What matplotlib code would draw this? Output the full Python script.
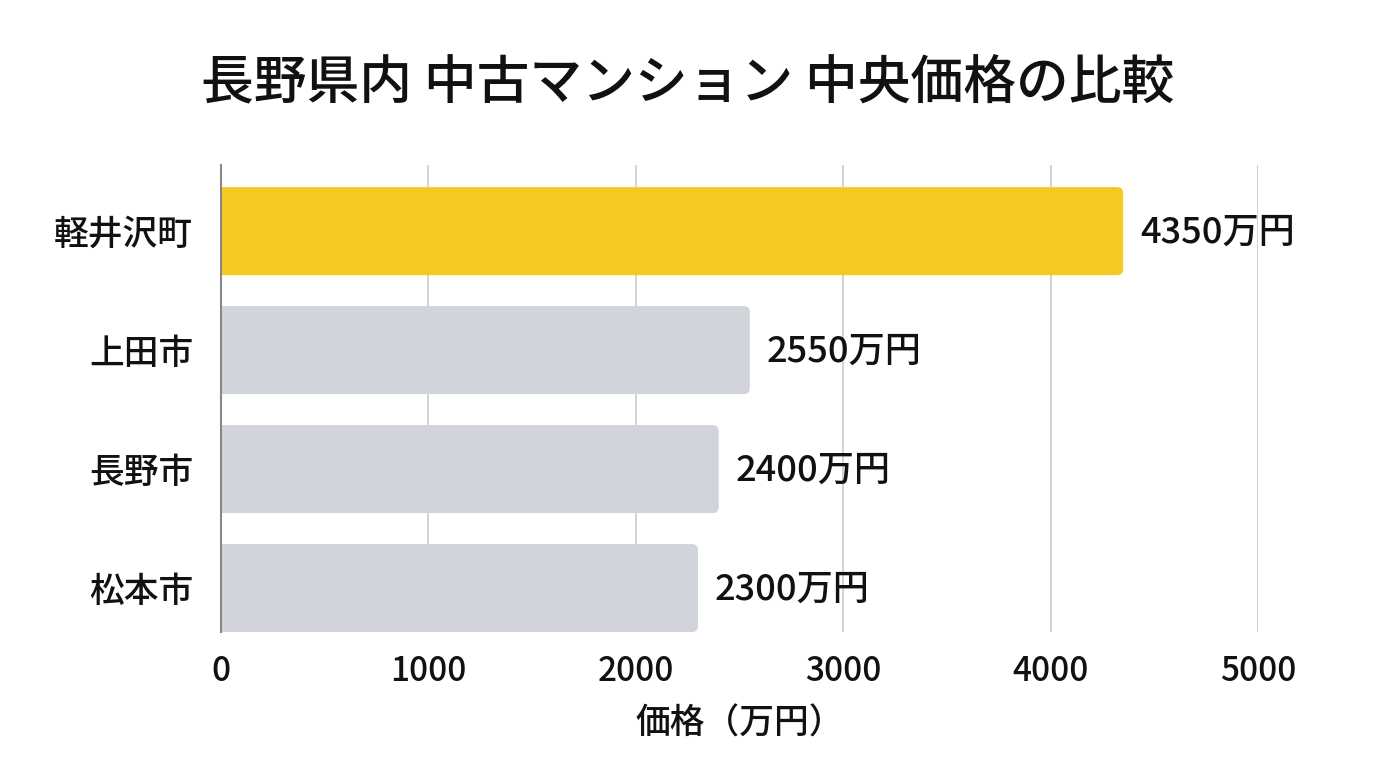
import matplotlib
matplotlib.use("Agg")
import matplotlib.pyplot as plt
from matplotlib.patches import FancyBboxPatch

plt.rcParams['font.family'] = ['Noto Sans CJK JP', 'DejaVu Sans']

categories = ["軽井沢町", "上田市", "長野市", "松本市"]
values = [4350, 2550, 2400, 2300]
value_labels = ["4350万円", "2550万円", "2400万円", "2300万円"]
xticks = [0, 1000, 2000, 3000, 4000, 5000]
title = "長野県内 中古マンション 中央価格の比較"
xlabel = "価格（万円）"

highlight = "#F5C91F"
base = "#D1D5DB"
colors = [highlight] + [base] * (len(categories) - 1)

fig = plt.figure(figsize=(13.76, 7.68), dpi=100)
ax = fig.add_axes([0.1606, 0.177, 0.7536, 0.608])

ypos = list(range(len(categories)))
bars = ax.barh(ypos, values, height=0.74, color=colors, zorder=2)

# replace bars with rounded versions (right corners visible, left clipped at axis)
ext = 60
for b, c in zip(bars, colors):
    x, y, w, h = b.get_x(), b.get_y(), b.get_width(), b.get_height()
    b.set_visible(False)
    p = FancyBboxPatch((x - ext, y), w + ext, h,
                       boxstyle="round,pad=0,rounding_size=30",
                       mutation_aspect=0.00168, facecolor=c, edgecolor="none",
                       zorder=2, clip_on=True)
    ax.add_patch(p)

for y, v, lab in zip(ypos, values, value_labels):
    ax.annotate(lab, xy=(v, y), xytext=(12, -1), textcoords="offset points",
                ha="left", va="center", fontsize=26, color="#111111",
                fontweight="medium")

ax.set_xlim(0, 5000)
ax.set_ylim(3.37, -0.555)
ax.set_yticks(ypos)
ax.set_yticklabels(categories, fontsize=25, color="#111111", fontweight="medium")
ax.set_xticks(xticks)
ax.set_xticklabels([str(t) for t in xticks], fontsize=24, color="#111111",
                   fontweight="medium")
ax.tick_params(axis="both", length=0)
ax.tick_params(axis="x", pad=16)
ax.tick_params(axis="y", pad=20)

ax.xaxis.grid(True, color="#CCCCCC", linewidth=1.2, zorder=0)
ax.set_axisbelow(True)
for s in ["top", "right", "bottom"]:
    ax.spines[s].set_visible(False)
ax.spines["left"].set_color("#888888")
ax.spines["left"].set_linewidth(1.5)
ax.spines["left"].set_zorder(3)

ax.set_xlabel(xlabel, fontsize=25, color="#111111", labelpad=12,
              fontweight="medium")
fig.suptitle(title, fontsize=38, fontweight="medium", color="#111111", y=0.925)

fig.savefig("out.png", dpi=100, facecolor="white")
